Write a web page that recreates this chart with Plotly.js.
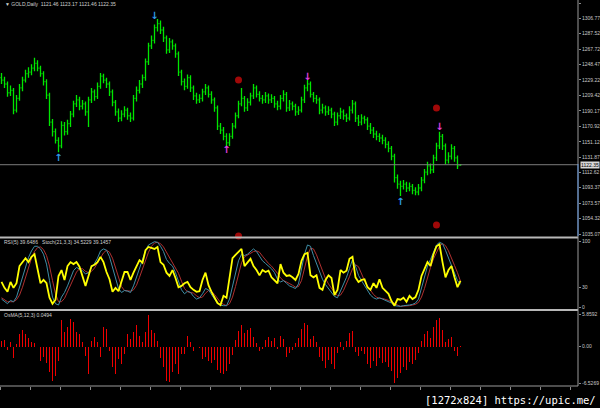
<!DOCTYPE html>
<html>
<head>
<meta charset="utf-8">
<script src="https://cdn.plot.ly/plotly-3.0.1.min.js"></script>
<style>
html,body{margin:0;padding:0;background:#000;}
#chart{width:600px;height:408px;}
</style>
</head>
<body>
<div id="chart"></div>
<script>
// ---- price bars (GOLD, Daily) ----
const openP = [1232,1229,1224,1213,1216,1191,1206,1219,1229,1237,
1239,1244,1250,1244,1237,1227,1210,1176,1164,1153,
1146,1172,1164,1174,1186,1199,1204,1196,1199,1189,
1204,1214,1208,1221,1234,1229,1224,1214,1201,1189,
1181,1186,1191,1184,1181,1206,1216,1224,1232,1252,
1272,1279,1295,1300,1292,1282,1267,1277,1272,1262,
1239,1227,1221,1232,1219,1209,1204,1206,1214,1219,
1211,1204,1194,1171,1166,1158,1150,1158,1171,1184,
1199,1206,1194,1201,1209,1219,1211,1206,1204,1209,
1204,1206,1199,1196,1206,1211,1194,1199,1196,1189,
1191,1204,1219,1224,1211,1206,1204,1191,1194,1189,
1191,1186,1176,1184,1189,1184,1181,1191,1199,1181,
1176,1181,1179,1171,1166,1161,1158,1156,1153,1148,
1143,1133,1106,1098,1095,1098,1093,1095,1090,1088,
1093,1103,1113,1121,1116,1131,1146,1158,1146,1128,
1133,1143,1131,1121.46];
const highP = [1238,1233,1227,1222,1219,1210,1224,1233,1242,1245,
1249,1257,1254,1247,1240,1230,1213,1180,1168,1157,
1177,1176,1179,1190,1203,1210,1208,1204,1202,1208,
1219,1217,1226,1238,1237,1232,1227,1217,1204,1193,
1191,1196,1194,1188,1210,1221,1229,1236,1256,1276,
1285,1299,1306,1304,1296,1285,1282,1280,1275,1265,
1242,1231,1236,1235,1222,1213,1211,1218,1224,1222,
1215,1207,1197,1175,1170,1162,1162,1175,1188,1203,
1219,1209,1206,1213,1224,1222,1215,1210,1214,1212,
1211,1209,1203,1210,1216,1214,1204,1202,1199,1196,
1208,1223,1229,1227,1214,1210,1207,1199,1197,1196,
1194,1189,1188,1194,1192,1187,1196,1204,1202,1185,
1186,1184,1182,1175,1170,1165,1162,1160,1157,1152,
1146,1136,1110,1102,1103,1101,1100,1098,1094,1098,
1107,1117,1126,1124,1135,1150,1164,1161,1149,1138,
1148,1146,1134,1123.17];
const lowP = [1224,1219,1208,1209,1186,1188,1203,1215,1226,1232,
1235,1240,1240,1233,1222,1205,1171,1158,1149,1138,
1143,1159,1160,1170,1182,1195,1191,1192,1184,1170,
1200,1203,1205,1218,1225,1219,1209,1196,1184,1176,
1177,1182,1179,1176,1178,1202,1212,1219,1228,1248,
1268,1275,1290,1287,1277,1262,1263,1267,1257,1234,
1222,1216,1218,1214,1204,1199,1200,1202,1210,1207,
1199,1189,1166,1161,1153,1144,1146,1155,1168,1181,
1196,1189,1190,1197,1205,1207,1202,1199,1200,1199,
1200,1194,1191,1192,1202,1189,1190,1191,1184,1185,
1188,1200,1215,1207,1201,1199,1186,1187,1184,1185,
1181,1171,1172,1180,1179,1176,1178,1187,1176,1171,
1172,1174,1166,1161,1156,1153,1151,1148,1143,1138,
1128,1100,1092,1083,1091,1088,1089,1085,1084,1084,
1089,1099,1109,1111,1112,1127,1142,1141,1123,1124,
1129,1126,1117,1121.46];
const closeP = [1229,1224,1213,1216,1191,1206,1219,1229,1237,1239,
1244,1250,1244,1237,1227,1210,1176,1164,1153,1146,
1172,1164,1174,1186,1199,1204,1196,1199,1189,1204,
1214,1208,1221,1234,1229,1224,1214,1201,1189,1181,
1186,1191,1184,1181,1206,1216,1224,1232,1252,1272,
1279,1295,1300,1292,1282,1267,1277,1272,1262,1239,
1227,1221,1232,1219,1209,1204,1206,1214,1219,1211,
1204,1194,1171,1166,1158,1150,1158,1171,1184,1199,
1206,1194,1201,1209,1219,1211,1206,1204,1209,1204,
1206,1199,1196,1206,1211,1194,1199,1196,1189,1191,
1204,1219,1224,1211,1206,1204,1191,1194,1189,1191,
1186,1176,1184,1189,1184,1181,1191,1199,1181,1176,
1181,1179,1171,1166,1161,1158,1156,1153,1148,1143,
1133,1106,1098,1095,1098,1093,1095,1090,1088,1093,
1103,1113,1121,1116,1131,1146,1158,1146,1128,1133,
1143,1131,1121,1122.35];

// ---- RSI(5) and Stoch(21,3,3) ----
const rsi = [38,29,23,38,29,36,62,68,74,68,
76,80,56,36,41,36,14,5,11,47,
56,41,62,68,65,68,61,47,32,47,
62,64,68,76,68,53,42,23,29,24,
38,53,53,41,52,61,71,67,86,91,
89,88,91,68,64,52,47,56,44,30,
32,36,38,30,26,23,24,41,52,33,
23,15,6,3,17,14,47,74,79,83,
88,62,68,73,62,56,48,56,53,55,
45,41,36,65,52,47,48,45,41,50,
70,80,82,48,45,48,29,26,41,48,
44,18,26,56,52,55,73,76,45,38,
41,42,30,26,36,29,42,29,24,20,
9,2,12,11,14,8,17,12,15,26,
47,59,68,62,80,92,95,68,45,56,
62,45,30,39.6486];
const stochMain = [12,8,5,10,8,15,30,45,62,75,
85,92,92,88,80,65,40,15,5,3,
15,22,32,45,55,60,58,55,50,52,
60,66,74,85,88,86,76,60,42,28,
22,25,24,22,32,45,58,70,85,94,
97,99,98,92,84,72,66,62,52,38,
26,20,24,22,16,12,14,20,28,26,
18,12,6,3,2,2,12,30,52,70,
80,78,80,84,88,84,76,70,66,62,
58,52,42,38,40,36,32,30,28,35,
58,80,94,92,78,66,54,42,34,28,
22,16,14,24,36,45,58,72,62,48,
40,32,24,18,14,12,14,12,10,8,
6,2,1,1,2,2,3,4,6,12,
28,45,62,72,84,94,98,96,86,74,
64,52,40,34.5229];
const stochSignal = [14,11,8,8,8,11,18,30,46,60,
74,84,90,91,87,78,62,40,20,8,
8,13,23,33,44,53,58,58,54,52,
54,59,67,75,82,86,83,74,59,43,
31,25,24,24,26,33,45,58,71,83,
92,97,98,96,91,83,74,67,60,51,
39,28,23,22,21,17,14,15,21,25,
24,19,12,7,4,2,5,15,31,51,
67,76,79,81,84,85,83,77,71,66,
62,57,51,44,40,38,36,33,30,31,
40,58,77,89,88,79,66,54,43,35,
28,22,17,18,25,35,46,58,64,61,
50,40,32,25,19,15,13,13,12,10,
8,5,3,1,1,2,2,3,4,7,
15,28,45,60,73,83,92,96,93,85,
75,63,52,39.1457];

// ---- OsMA(5,12,3) ----
const osma = [1.0,1.2,-0.6,0.8,-2.0,0.5,2.3,3.0,2.2,1.5,
0.8,0.6,-0.1,-2.5,-1.8,-3.0,-4.5,-6.1,-5.2,-2.5,
4.7,2.6,3.5,5.0,4.4,2.6,2.3,0.8,-1.6,-4.9,
1.1,1.7,0.8,-1.9,3.5,3.2,-0.7,-3.7,-4.9,-2.2,
-3.1,-1.3,2.3,1.4,2.6,3.8,2.0,0.8,2.6,5.6,
2.9,2.5,1.1,-2.0,-3.7,-6.1,-6.4,-4.6,-3.1,-4.9,
-1.3,-1.3,2.0,0.8,-0.7,-0.1,-0.3,-2.2,-1.8,-2.6,
-3.0,-2.4,-4.2,-4.8,-5.0,-4.4,-3.2,-1.5,1.2,2.8,
3.8,2.4,3.0,3.4,1.8,0.6,-0.8,-0.5,1.2,1.8,
1.0,1.6,-0.4,2.0,1.3,-1.8,-1.2,-0.6,0.6,1.5,
3.2,4.3,3.8,1.4,2.0,0.8,-1.8,-2.6,-3.8,-2.4,
-3.2,-4.0,-1.2,0.8,-0.6,1.0,2.4,2.8,-1.0,-1.6,
-0.8,-1.4,-3.2,-3.8,-2.6,-3.4,-2.0,-3.0,-2.8,-3.6,
-4.4,-6.5,-5.6,-4.8,-3.6,-4.2,-2.8,-3.2,-2.4,-1.2,
1.0,2.2,2.8,1.6,3.6,4.8,5.2,3.0,0.8,1.4,
1.8,-0.8,-1.6,0.0494];

// ---- signal markers ----
const blueUpBars = [19,133], blueUpPrices = [1130.7,1075.3];
const blueDownBars = [51], blueDownPrices = [1308.4];
const magUpBars = [75], magUpPrices = [1140.8];
const magDownBars = [102,146], magDownPrices = [1232.8,1169.8];
const dotBars = [79,79,145,145], dotPrices = [1229,1032.6,1193.7,1046.3];

// ---- axis labels ----
const priceTicks = [1326.02,1306.77,1287.52,1267.72,1248.47,1229.22,1209.42,1190.17,1170.92,1151.12,1131.87,1112.62,1093.37,1073.57,1054.32,1035.07];
const rsiTicks = [100,30,0];
const osmaTicks = [5.8592,0,-6.5269];
const osmaTickText = ['5.8592','0.00','-6.5269'];
const bidPrice = 1122.35;
const headerText = '\u25BC GOLD,Daily  1121.46 1123.17 1121.46 1122.35';
const rsiText = 'RSI(5) 39.6486   Stoch(21,3,3) 34.5229 39.1457';
const osmaText = 'OsMA(5,12,3) 0.0494';
const watermark = '[1272x824] https://upic.me/';

const bars = closeP.map((_, i) => i);

const H = 408, W = 600, PR = 578;
const py = px => 1 - px / H;
const pxx = px => px / W;

const tickFont = {family: 'Liberation Sans, Arial, sans-serif', size: 5, color: '#c8c8c8'};
const axCommon = {
  side: 'right', anchor: 'x', showgrid: false, zeroline: false, showline: false,
  ticks: 'outside', ticklen: 2, tickcolor: '#8a8a8a', tickwidth: 1,
  tickfont: tickFont, fixedrange: true, tickmode: 'array'
};

const traces = [
  {type: 'ohlc', x: bars, open: openP, high: highP, low: lowP, close: closeP,
   xaxis: 'x', yaxis: 'y', tickwidth: 0.35,
   increasing: {line: {color: '#00e600', width: 1.3}},
   decreasing: {line: {color: '#00e600', width: 1.3}}, hoverinfo: 'skip'},
  {type: 'scatter', mode: 'markers', x: dotBars, y: dotPrices, xaxis: 'x', yaxis: 'y',
   marker: {size: 7, color: '#a00808'}, cliponaxis: false, hoverinfo: 'skip'},
  {type: 'scatter', mode: 'text', x: blueUpBars, y: blueUpPrices, text: blueUpBars.map(() => '\u2191'),
   textfont: {family: 'DejaVu Sans', size: 10, color: '#2f9be8', weight: 'bold'}, xaxis: 'x', yaxis: 'y', cliponaxis: false, hoverinfo: 'skip'},
  {type: 'scatter', mode: 'text', x: blueDownBars, y: blueDownPrices, text: blueDownBars.map(() => '\u2193'),
   textfont: {family: 'DejaVu Sans', size: 10, color: '#2f9be8', weight: 'bold'}, xaxis: 'x', yaxis: 'y', cliponaxis: false, hoverinfo: 'skip'},
  {type: 'scatter', mode: 'text', x: magUpBars, y: magUpPrices, text: magUpBars.map(() => '\u2191'),
   textfont: {family: 'DejaVu Sans', size: 10, color: '#e040e0', weight: 'bold'}, xaxis: 'x', yaxis: 'y', cliponaxis: false, hoverinfo: 'skip'},
  {type: 'scatter', mode: 'text', x: magDownBars, y: magDownPrices, text: magDownBars.map(() => '\u2193'),
   textfont: {family: 'DejaVu Sans', size: 10, color: '#e040e0', weight: 'bold'}, xaxis: 'x', yaxis: 'y', cliponaxis: false, hoverinfo: 'skip'},
  {type: 'scatter', mode: 'lines', x: bars, y: stochSignal, xaxis: 'x', yaxis: 'y2',
   line: {color: '#b03030', width: 1}, hoverinfo: 'skip'},
  {type: 'scatter', mode: 'lines', x: bars, y: stochMain, xaxis: 'x', yaxis: 'y2',
   line: {color: '#3f8fa8', width: 1}, hoverinfo: 'skip'},
  {type: 'scatter', mode: 'lines', x: bars, y: rsi, xaxis: 'x', yaxis: 'y2',
   line: {color: '#ffff00', width: 1.8}, hoverinfo: 'skip'},
  {type: 'bar', x: bars, y: osma, xaxis: 'x', yaxis: 'y3', width: 0.6,
   marker: {color: '#ee0000', line: {width: 0}}, hoverinfo: 'skip'}
];

const layout = {
  width: W, height: H,
  margin: {l: 0, r: W - PR, t: 0, b: 0},
  paper_bgcolor: '#000', plot_bgcolor: '#000',
  showlegend: false, hovermode: false, bargap: 0,
  xaxis: {anchor: 'y3', domain: [0, 1], range: [-0.5, 192.17], showgrid: false, zeroline: false,
          showline: false, ticks: 'outside', ticklen: 3, tickcolor: '#8a8a8a', tick0: 9.83, dtick: 10,
          showticklabels: false, rangeslider: {visible: false}, fixedrange: true},
  yaxis: Object.assign({}, axCommon, {domain: [py(236), 1], range: [1032.56, 1329.8],
          tickvals: priceTicks, ticktext: priceTicks.map(v => v.toFixed(2))}),
  yaxis2: Object.assign({}, axCommon, {domain: [py(309), py(239)], range: [-3.03, 103.03],
          tickvals: rsiTicks, ticktext: rsiTicks.map(String)}),
  yaxis3: Object.assign({}, axCommon, {domain: [py(386), py(311)], range: [-7.066, 6.398],
          tickvals: osmaTicks, ticktext: osmaTickText}),
  shapes: [
    {type: 'line', xref: 'paper', yref: 'y', x0: 0, x1: 1, y0: bidPrice, y1: bidPrice,
     line: {color: '#7c7c7c', width: 1}},
    {type: 'line', xref: 'paper', yref: 'paper', x0: 0, x1: 1, y0: py(237.5), y1: py(237.5),
     line: {color: '#b8b8b8', width: 2}},
    {type: 'line', xref: 'paper', yref: 'paper', x0: 0, x1: 1, y0: py(310), y1: py(310),
     line: {color: '#b8b8b8', width: 2}},
    {type: 'line', xref: 'paper', yref: 'paper', x0: 0, x1: 1, y0: py(386), y1: py(386),
     line: {color: '#9a9a9a', width: 1}},
    {type: 'line', xref: 'paper', yref: 'paper', x0: 1, x1: 1, y0: py(386), y1: 1,
     line: {color: '#9a9a9a', width: 1}},
    {type: 'line', xref: 'paper', yref: 'paper', x0: 1, x1: 1, y0: py(236), y1: py(164),
     line: {color: '#5b8fd6', width: 1}}
  ],
  annotations: [
    {xref: 'paper', yref: 'paper', x: pxx(3) / (PR / W), y: py(4), xanchor: 'left', yanchor: 'middle',
     text: headerText, showarrow: false, font: {family: 'Liberation Sans, Arial', size: 5, color: '#d0d0d0'}},
    {xref: 'paper', yref: 'paper', x: pxx(2) / (PR / W), y: py(242), xanchor: 'left', yanchor: 'middle',
     text: rsiText, showarrow: false, font: {family: 'Liberation Sans, Arial', size: 5, color: '#d0d0d0'}},
    {xref: 'paper', yref: 'paper', x: pxx(2) / (PR / W), y: py(315), xanchor: 'left', yanchor: 'middle',
     text: osmaText, showarrow: false, font: {family: 'Liberation Sans, Arial', size: 5, color: '#d0d0d0'}},
    {xref: 'paper', yref: 'y', x: 1.003, y: bidPrice, xanchor: 'left', yanchor: 'middle',
     text: bidPrice.toFixed(2), showarrow: false, bgcolor: '#d8d8d8', borderpad: 0,
     font: {family: 'Liberation Sans, Arial', size: 5, color: '#000'}},
    {xref: 'paper', yref: 'paper', x: 598 / PR, y: py(400), xanchor: 'right', yanchor: 'middle',
     text: watermark, showarrow: false,
     font: {family: 'DejaVu Sans Mono', size: 10.5, color: '#ffffff', shadow: '1px 1px 1px #000'}}
  ]
};

Plotly.newPlot('chart', traces, layout, {staticPlot: true, displayModeBar: false});
</script>
</body>
</html>
